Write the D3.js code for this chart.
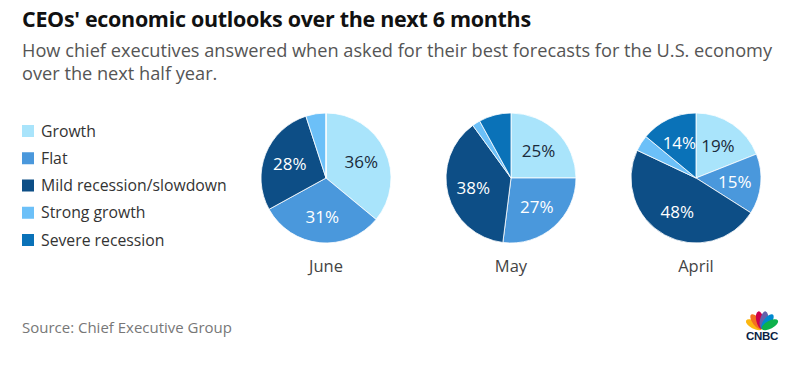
<!DOCTYPE html>
<html><head><meta charset="utf-8">
<script src="https://cdn.jsdelivr.net/npm/d3@7"></script>
<style>body{margin:0;background:#fff}svg{display:block}</style>
</head><body>
<script>
const categories = ["Growth","Flat","Mild recession/slowdown","Strong growth","Severe recession"];
const colors = ["#a9e4fb","#4a98dc","#0d4e86","#6cc0f8","#0a72b8"];
const months = ["June","May","April"];
const juneValues = [36,31,28,5,0];
const mayValues = [25,27,38,2,8];
const aprilValues = [19,15,48,4,14];
const labelShown = [true,true,true,false,true];
const textColors = ["#1a2a3a","#fff","#fff","#fff","#fff"];

const W=800,H=369;
const svg=d3.select("body").append("svg").attr("width",W).attr("height",H);
const font="'Open Sans', sans-serif";

function fit(sel,w){
  const n=sel.node(); const cur=n.getComputedTextLength();
  const fs=parseFloat(sel.attr("font-size"));
  const nf=fs*w/cur;
  sel.attr("font-size",nf.toFixed(2));
  return nf;
}

fit(svg.append("text").attr("x",22).attr("y",27).attr("font-family",font).attr("font-weight",700)
  .attr("font-size",20).attr("fill","#111").attr("letter-spacing",-0.3).text("CEOs' economic outlooks over the next 6 months"),508);
const sub=svg.append("text").attr("x",22).attr("y",57).attr("font-family",font).attr("font-size",16.5)
  .attr("fill","#555").text("How chief executives answered when asked for their best forecasts for the U.S. economy");
fit(sub,751);
svg.append("text").attr("x",22).attr("y",80).attr("font-family",font).attr("font-size",sub.attr("font-size"))
  .attr("fill","#555").text("over the next half year.");

// legend
const leg=svg.append("g");
const ly=d3.scalePoint().domain(categories).range([131,240]);
const probe=svg.append("text").attr("font-family",font).attr("font-size",14.5).text(categories[2]);
const legFs=fit(probe,186); probe.remove();
categories.forEach((c,i)=>{
  leg.append("rect").attr("x",22).attr("y",ly(c)-6).attr("width",12).attr("height",12).attr("fill",colors[i]);
  leg.append("text").attr("x",41).attr("y",ly(c)+5.5).attr("font-family",font).attr("font-size",legFs)
    .attr("fill","#333").text(c);
});

const data=[juneValues,mayValues,aprilValues];
const cx=d3.scalePoint().domain(months).range([326,696]);
const r=65;
const pie=d3.pie().sort(null).value(d=>d);
const arc=d3.arc().innerRadius(0).outerRadius(r);
const labArc=d3.arc().innerRadius(r*0.6).outerRadius(r*0.6);
months.forEach((m,mi)=>{
  const g=svg.append("g").attr("transform",`translate(${cx(m)},178)`);
  const arcs=pie(data[mi]);
  g.selectAll("path").data(arcs).join("path").attr("d",arc)
    .attr("fill",(d,i)=>colors[i]).attr("stroke","#fff").attr("stroke-width",0.8);
  g.selectAll("text.l").data(arcs.filter((d,i)=>labelShown[i]&&d.data>=10)).join("text")
    .attr("class","l")
    .attr("transform",d=>`translate(${labArc.centroid(d)})`)
    .attr("text-anchor","middle").attr("dy","0.36em")
    .attr("font-family",font).attr("font-size",17)
    .attr("fill",d=>textColors[d.index]).text(d=>d.data+"%");
  svg.append("text").attr("x",cx(m)).attr("y",272).attr("text-anchor","middle")
    .attr("font-family",font).attr("font-size",16.5).attr("fill","#444").text(m);
});

fit(svg.append("text").attr("x",22).attr("y",333).attr("font-family",font).attr("font-size",14)
  .attr("fill","#777").text("Source: Chief Executive Group"),210);

// CNBC logo
const logo=svg.append("g").attr("transform","translate(762,329)");
const fc=["#fcb711","#f37021","#cc004c","#6460aa","#0089d0","#0db14b"];
const angs=[-62,-37,-12,12,37,62];
angs.forEach((a,i)=>{
  logo.append("ellipse").attr("cx",0).attr("cy",-9).attr("rx",3.9).attr("ry",9)
    .attr("fill",fc[i]).attr("transform",`rotate(${a})`);
});
logo.append("text").attr("x",0).attr("y",11).attr("text-anchor","middle").attr("font-family","Arial, sans-serif")
  .attr("font-weight",900).attr("font-size",11.5).attr("fill","#0a1f44").attr("letter-spacing",-0.3).text("CNBC");
</script>
</body></html>
